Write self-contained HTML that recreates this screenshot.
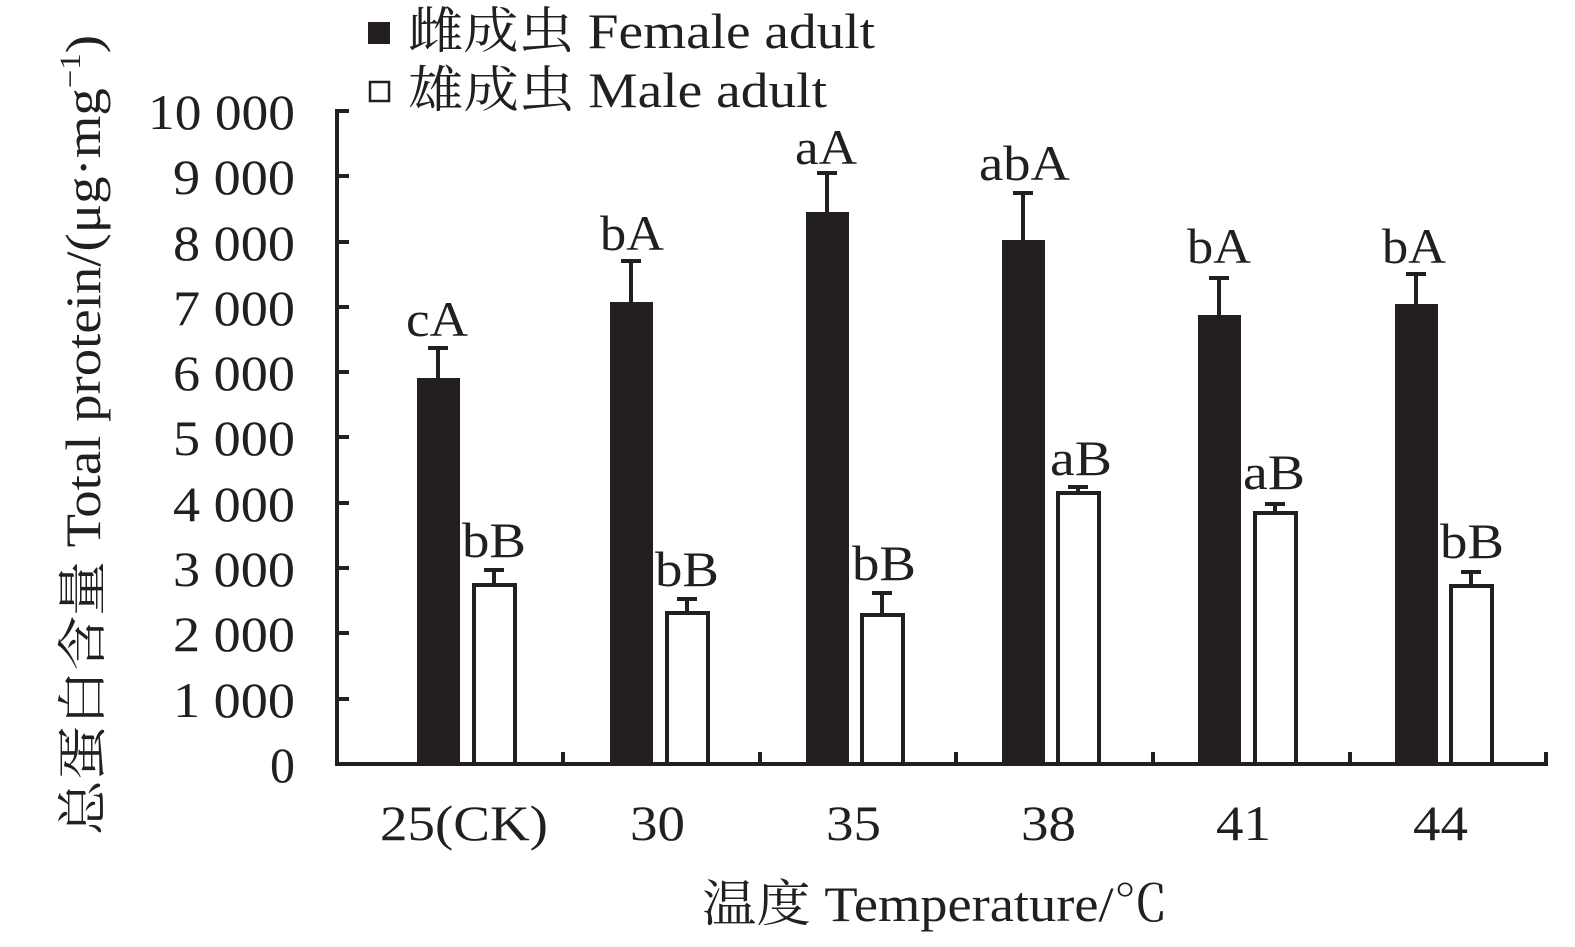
<!DOCTYPE html><html><head><style>body{margin:0;background:#fff}</style></head><body>
<svg width="1575" height="942" xmlns="http://www.w3.org/2000/svg" font-family="'Liberation Serif','Noto Serif CJK SC',serif" fill="#231f20">
<rect width="1575" height="942" fill="#fff"/>
<g stroke="#231f20" stroke-width="4" fill="none">
<line x1="337" y1="109" x2="337" y2="766"/>
<line x1="335" y1="764" x2="1548" y2="764"/>
</g>
<g stroke="#231f20" stroke-width="4">
<line x1="337" x2="349" y1="111" y2="111"/><line x1="337" x2="349" y1="176" y2="176"/><line x1="337" x2="349" y1="242" y2="242"/><line x1="337" x2="349" y1="307" y2="307"/><line x1="337" x2="349" y1="372" y2="372"/><line x1="337" x2="349" y1="437" y2="437"/><line x1="337" x2="349" y1="503" y2="503"/><line x1="337" x2="349" y1="568" y2="568"/><line x1="337" x2="349" y1="633" y2="633"/><line x1="337" x2="349" y1="699" y2="699"/>
<line x1="563" x2="563" y1="752" y2="764"/><line x1="760" x2="760" y1="752" y2="764"/><line x1="956" x2="956" y1="752" y2="764"/><line x1="1153" x2="1153" y1="752" y2="764"/><line x1="1350" x2="1350" y1="752" y2="764"/><line x1="1546" x2="1546" y1="752" y2="764"/>
</g>
<g font-size="50" lengthAdjust="spacingAndGlyphs">
<text x="148" y="129" textLength="147" lengthAdjust="spacingAndGlyphs">10 000</text>
<text x="173" y="194" textLength="122" lengthAdjust="spacingAndGlyphs">9 000</text>
<text x="173" y="260" textLength="122" lengthAdjust="spacingAndGlyphs">8 000</text>
<text x="173" y="325" textLength="122" lengthAdjust="spacingAndGlyphs">7 000</text>
<text x="173" y="390" textLength="122" lengthAdjust="spacingAndGlyphs">6 000</text>
<text x="173" y="455" textLength="122" lengthAdjust="spacingAndGlyphs">5 000</text>
<text x="173" y="521" textLength="122" lengthAdjust="spacingAndGlyphs">4 000</text>
<text x="173" y="586" textLength="122" lengthAdjust="spacingAndGlyphs">3 000</text>
<text x="173" y="651" textLength="122" lengthAdjust="spacingAndGlyphs">2 000</text>
<text x="173" y="717" textLength="122" lengthAdjust="spacingAndGlyphs">1 000</text>
<text x="270" y="782" textLength="25" lengthAdjust="spacingAndGlyphs">0</text>
</g>
<g font-size="50">
<text x="380" y="840" textLength="168" lengthAdjust="spacingAndGlyphs">25(CK)</text>
<text x="630" y="840" textLength="55" lengthAdjust="spacingAndGlyphs">30</text>
<text x="826" y="840" textLength="55" lengthAdjust="spacingAndGlyphs">35</text>
<text x="1021" y="840" textLength="55" lengthAdjust="spacingAndGlyphs">38</text>
<text x="1216" y="840" textLength="55" lengthAdjust="spacingAndGlyphs">41</text>
<text x="1413" y="840" textLength="55" lengthAdjust="spacingAndGlyphs">44</text>
</g>
<g stroke="#231f20" stroke-width="4">
<rect x="417" y="378" width="43" height="386" stroke="none"/>
<rect x="610" y="302" width="43" height="462" stroke="none"/>
<rect x="806" y="212" width="43" height="552" stroke="none"/>
<rect x="1002" y="240" width="43" height="524" stroke="none"/>
<rect x="1198" y="315" width="43" height="449" stroke="none"/>
<rect x="1395" y="304" width="43" height="460" stroke="none"/>
<path d="M438 378V348M428 348H448 M631 302V261M621 261H641 M827 212V173M817 173H837 M1023 240V193M1013 193H1033 M1219 315V278M1209 278H1229 M1416 304V274M1406 274H1426" fill="none"/>
<g fill="#fff">
<rect x="474" y="585" width="41" height="179"/>
<rect x="667" y="613" width="41" height="151"/>
<rect x="862" y="615" width="41" height="149"/>
<rect x="1058" y="493" width="41" height="271"/>
<rect x="1255" y="513" width="41" height="251"/>
<rect x="1451" y="586" width="41" height="178"/>
</g>
<path d="M494 585V570M484 570H504 M687 613V599M677 599H697 M882 615V593M872 593H892 M1078 493V487M1068 487H1088 M1275 513V504M1265 504H1285 M1471 586V572M1461 572H1481" fill="none"/>
</g>
<g font-size="50">
<text x="406" y="336" textLength="62" lengthAdjust="spacingAndGlyphs">cA</text>
<text x="600" y="250" textLength="64" lengthAdjust="spacingAndGlyphs">bA</text>
<text x="795" y="164" textLength="62" lengthAdjust="spacingAndGlyphs">aA</text>
<text x="979" y="180" textLength="91" lengthAdjust="spacingAndGlyphs">abA</text>
<text x="1187" y="263" textLength="64" lengthAdjust="spacingAndGlyphs">bA</text>
<text x="1382" y="263" textLength="64" lengthAdjust="spacingAndGlyphs">bA</text>
<text x="462" y="557" textLength="64" lengthAdjust="spacingAndGlyphs">bB</text>
<text x="655" y="586" textLength="64" lengthAdjust="spacingAndGlyphs">bB</text>
<text x="852" y="580" textLength="64" lengthAdjust="spacingAndGlyphs">bB</text>
<text x="1050" y="475" textLength="62" lengthAdjust="spacingAndGlyphs">aB</text>
<text x="1243" y="489" textLength="62" lengthAdjust="spacingAndGlyphs">aB</text>
<text x="1440" y="558" textLength="64" lengthAdjust="spacingAndGlyphs">bB</text>
</g>
<rect x="368" y="22" width="22" height="22"/>
<rect x="370" y="82" width="19" height="19" fill="#fff" stroke="#231f20" stroke-width="2.5"/>
<g font-size="50">
<text x="408" y="48" textLength="467" lengthAdjust="spacingAndGlyphs">雌成虫 Female adult</text>
<text x="408" y="107" textLength="419" lengthAdjust="spacingAndGlyphs">雄成虫 Male adult</text>
<text x="702" y="921" textLength="466" lengthAdjust="spacingAndGlyphs">温度 Temperature/℃</text>
<text transform="translate(100,435) rotate(-90)" x="-400" textLength="800" lengthAdjust="spacingAndGlyphs">总蛋白含量 Total protein/(μg·mg<tspan font-size="30" dy="-20">−1</tspan><tspan dy="20">)</tspan></text>
</g>
</svg>
</body></html>
